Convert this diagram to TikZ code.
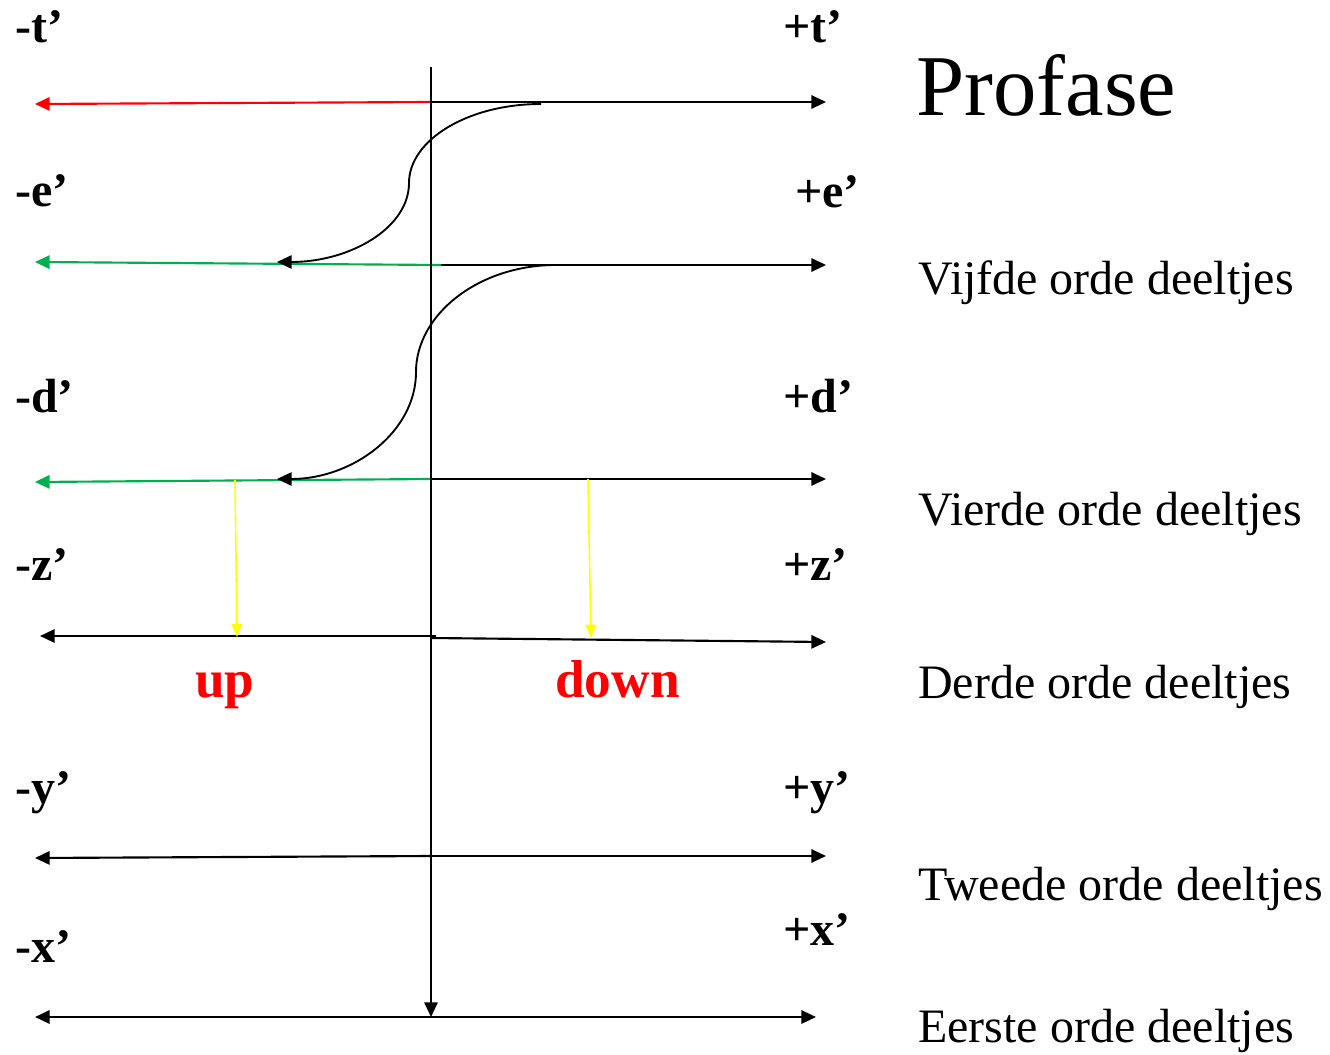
\documentclass[tikz,border=0pt]{standalone}
\usepackage{fontspec}
\setmainfont{Liberation Serif}
\usetikzlibrary{arrows.meta}
\definecolor{spinred}{HTML}{FF0000}
\definecolor{spingreen}{HTML}{00B050}
\definecolor{spinyellow}{HTML}{FFFF00}
\tikzset{
  axis/.style={
    line width=1.6pt,
    draw=black
  },
  tip/.style={
    -{Triangle[length=11pt,width=10pt]}
  },
  small tip/.style={
    -{Triangle[length=10pt,width=8pt]}
  },
  pole/.style={
    font=\bfseries\fontsize{36}{40}\selectfont,
    inner sep=0pt,
    anchor=base west
  },
  orde/.style={
    font=\fontsize{36}{40}\selectfont,
    inner sep=0pt,
    anchor=base west
  },
  spin/.style={
    font=\bfseries\fontsize{40}{44}\selectfont,
    text=spinred,
    inner sep=0pt,
    anchor=base west
  }
}

\begin{document}
\begin{tikzpicture}[x=0.75pt,y=-0.75pt]
\useasboundingbox (0,0) rectangle (1330,1055);

% end points of the levels
\coordinate (top) at (431,67);
\coordinate (bottom) at (431,1017);
\coordinate (t0) at (431,102);   \coordinate (tR) at (826,102);   \coordinate (tL) at (35,104);
\coordinate (e0) at (441,265);   \coordinate (eR) at (826,265);   \coordinate (eL) at (35,262);
\coordinate (d0) at (431,479);   \coordinate (dR) at (826,479);   \coordinate (dL) at (35,482);
\coordinate (zL0) at (436,636);  \coordinate (zL) at (40,636);
\coordinate (zR0) at (431,638);  \coordinate (zR) at (826,642);
\coordinate (y0) at (431,856);   \coordinate (yR) at (826,856);   \coordinate (yL) at (35,858);
\coordinate (xL) at (35,1017);   \coordinate (xR) at (816,1017);
\coordinate (c1) at (541,104);   \coordinate (c1end) at (277,262);
\coordinate (c2) at (556,265);   \coordinate (c2end) at (277,479);
\coordinate (up0) at (235,480);  \coordinate (up1) at (237,637);
\coordinate (dn0) at (588,479);  \coordinate (dn1) at (591,638);

% labels left and right
\node[pole] (negT) at (15,43) {-t’};
\node[pole] (posT) at (783,43) {+t’};
\node[pole] (negE) at (15,207) {-e’};
\node[pole] (posE) at (795,208) {+e’};
\node[pole] (negD) at (15,412) {-d’};
\node[pole] (posD) at (783,412) {+d’};
\node[pole] (negZ) at (15,580) {-z’};
\node[pole] (posZ) at (783,580) {+z’};
\node[pole] (negY) at (15,803) {-y’};
\node[pole] (posY) at (783,803) {+y’};
\node[pole] (negX) at (15,962) {-x’};
\node[pole] (posX) at (783,945) {+x’};

\node[spin] (up) at (195,697) {up};
\node[spin] (down) at (555,697) {down};

% column with the orders
\node[orde, font=\fontsize{65}{70}\selectfont] (title) at (916,116) {Profase};
\node[orde] (vijfde) at (918,295) {Vijfde orde deeltjes};
\node[orde] (vierde) at (918,525) {Vierde orde deeltjes};
\node[orde] (derde) at (918,698) {Derde orde deeltjes};
\node[orde] (tweede) at (918,900) {Tweede orde deeltjes};
\node[orde] (eerste) at (918,1042) {Eerste orde deeltjes};

% levels
\draw[axis, tip] (t0) -- (tR);
\draw[axis, tip, draw=spinred] (t0) -- (tL);
\draw[axis, tip] (e0) -- (eR);
\draw[axis, tip, draw=spingreen] (e0) -- (eL);
\draw[axis, tip] (d0) -- (dR);
\draw[axis, tip, draw=spingreen] (d0) -- (dL);
\draw[axis, tip] (zL0) -- (zL);
\draw[axis, tip] (zR0) -- (zR);
\draw[axis, tip] (y0) -- (yR);
\draw[axis, tip] (y0) -- (yL);
\draw[axis, {Triangle[length=11pt,width=10pt]}-{Triangle[length=11pt,width=10pt]}] (xL) -- (xR);

% vertical axis
\draw[line width=1.4pt, tip] (top) -- (bottom);

% transitions between levels
\draw[line width=1.4pt, tip] (c1) .. controls (468,104) and (409,140) .. (409,183)
  .. controls (409,228) and (350,262) .. (c1end);
\draw[line width=1.4pt, tip] (c2) .. controls (478,265) and (416,315) .. (416,372)
  .. controls (416,432) and (353,479) .. (c2end);

% decay into up and down
\draw[line width=1.2pt, small tip, draw=spinyellow] (up0) -- (up1);
\draw[line width=1.2pt, small tip, draw=spinyellow] (dn0) -- (dn1);

\end{tikzpicture}
\end{document}
